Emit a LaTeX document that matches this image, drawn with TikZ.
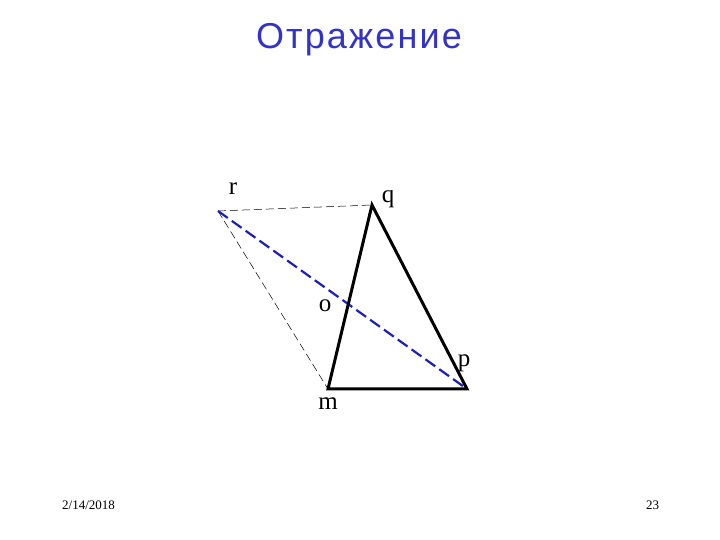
\documentclass[tikz,border=0pt]{standalone}
\usepackage{xcolor}
\usepackage{tikz}
\usepackage{fontspec}
\setmainfont{Liberation Serif}
\newfontfamily\titlefont[LetterSpace=6]{Liberation Sans}
\definecolor{titleblue}{RGB}{51,51,204}
\definecolor{lineblue}{RGB}{30,30,190}

\begin{document}
\begin{tikzpicture}[x=1pt, y=1pt,
    side/.style={black,line width=3pt,line cap=round},
    thin dash/.style={black,line width=0.5pt,dash pattern=on 8pt off 4pt},
    mirror/.style={lineblue,line width=2.2pt,dash pattern=on 12pt off 5pt},
    lbl/.style={anchor=base,inner sep=0pt,font=\fontsize{25}{28}\selectfont}]
      \useasboundingbox (0,0) rectangle (720,540);
      \coordinate (r) at (218,329);
      \coordinate (q) at (372,335);
      \coordinate (m) at (328,151);
      \coordinate (p) at (467,151);
      \draw[thin dash] (r) -- (q);
      \draw[thin dash] (r) -- (m);
      \draw[mirror] (r) -- (p);
      \draw[side] (q) -- (m) -- (p) -- cycle;
      \node[lbl] (rlbl) at (233,345) {r};
      \node[lbl] (qlbl) at (388,337) {q};
      \node[lbl] (olbl) at (325,228) {o};
      \node[lbl] (plbl) at (464,173) {p};
      \node[lbl] (mlbl) at (328,130) {m};
      \node[titleblue,anchor=base,inner sep=0pt,font=\titlefont\fontsize{36}{40}\selectfont] (title) at (359,491) {Отражение};
      \node[anchor=base,inner sep=0pt,font=\fontsize{13}{15}\selectfont] (date) at (88.5,30) {2/14/2018};
      \node[anchor=base,inner sep=0pt,font=\fontsize{13}{15}\selectfont] (page) at (652.5,30) {23};
    \end{tikzpicture}
\end{document}
